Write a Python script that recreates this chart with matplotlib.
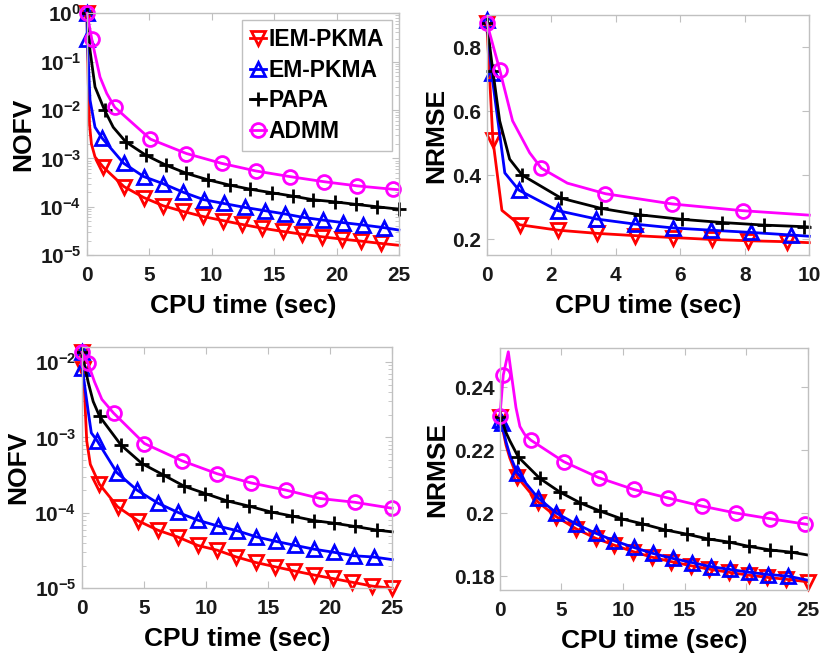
import numpy as np
import matplotlib
matplotlib.use("Agg")
import matplotlib.pyplot as plt
from matplotlib.ticker import FuncFormatter, LogLocator, NullFormatter

plt.rcParams['font.family'] = ['Liberation Sans', 'DejaVu Sans']
plt.rcParams['font.weight'] = 'bold'
plt.rcParams['mathtext.fontset'] = 'custom'
plt.rcParams['mathtext.rm'] = 'Liberation Sans:bold'
plt.rcParams['mathtext.bf'] = 'Liberation Sans:bold'
plt.rcParams['mathtext.it'] = 'Liberation Sans:bold'

names = ["IEM-PKMA", "EM-PKMA", "PAPA", "ADMM"]
colors = ["#ff0000", "#0000ff", "#000000", "#ff00ff"]
marks = ["v", "^", "+", "o"]

# ---- top left: NOFV vs CPU time ----
tl_iem_t = [0, 0.03, 0.1, 0.2, 0.35, 0.64, 1.3, 2.97, 4.55, 6.10, 7.70, 9.30, 10.86, 12.46, 14.06, 15.67, 17.27, 18.82, 20.40, 21.95, 23.53, 25]
tl_iem_v = [1, 0.3, 0.035, 5e-3, 2e-3, 1.07e-3, 6.6e-4, 2.6e-4, 1.55e-4, 1.05e-4, 8e-5, 6.3e-5, 5.2e-5, 4.3e-5, 3.6e-5, 3.1e-5, 2.7e-5, 2.4e-5, 2.15e-5, 1.95e-5, 1.75e-5, 1.6e-5]
tl_iem_m = [0] + list(range(6, 21))
tl_em_t = [0, 0.02, 0.24, 0.64, 1.22, 2.94, 4.55, 6.10, 7.70, 9.36, 10.96, 12.65, 14.25, 15.86, 17.38, 18.93, 20.53, 22.14, 23.8, 25]
tl_em_v = [1, 0.3, 0.016, 4.4e-3, 2.6e-3, 7.9e-4, 4.2e-4, 3.0e-4, 2.0e-4, 1.4e-4, 1.17e-4, 9.7e-5, 8.3e-5, 7.1e-5, 6.0e-5, 5.3e-5, 4.7e-5, 4.2e-5, 3.7e-5, 3.3e-5]
tl_em_m = [0, 1] + list(range(4, 19))
tl_papa_t = [0, 0.24, 0.64, 1.4, 2.1, 3.1, 4.7, 6.3, 7.97, 9.7, 11.44, 13.1, 14.8, 16.5, 18.1, 19.9, 21.55, 23.26, 25]
tl_papa_v = [1, 0.17, 0.03, 0.01, 4.4e-3, 2.2e-3, 1.17e-3, 7.3e-4, 4.9e-4, 3.6e-4, 2.8e-4, 2.3e-4, 1.95e-4, 1.66e-4, 1.4e-4, 1.26e-4, 1.12e-4, 1.0e-4, 8.9e-5]
tl_papa_m = [0, 3] + list(range(5, 19))
tl_admm_t = [0, 0.37, 0.7, 1.04, 1.58, 2.22, 5.08, 7.97, 10.78, 13.53, 16.26, 18.98, 21.66, 24.5, 25]
tl_admm_v = [1, 0.3, 0.12, 0.048, 0.022, 0.0114, 2.5e-3, 1.26e-3, 7.9e-4, 5.5e-4, 4.2e-4, 3.3e-4, 2.7e-4, 2.3e-4, 2.25e-4]
tl_admm_m = [0, 1] + list(range(5, 14))

# ---- top right: NRMSE vs CPU time ----
tr_iem_t = [0, 0.19, 0.47, 1.02, 2.21, 3.43, 4.59, 5.78, 6.97, 8.11, 9.3, 10]
tr_iem_v = [0.877, 0.51, 0.29, 0.245, 0.228, 0.218, 0.211, 0.205, 0.199, 0.195, 0.192, 0.189]
tr_iem_m = [0, 1] + list(range(3, 11))
tr_em_t = [0, 0.15, 0.56, 1.0, 2.21, 3.4, 4.59, 5.78, 6.95, 8.19, 9.43, 10]
tr_em_v = [0.885, 0.72, 0.407, 0.353, 0.289, 0.263, 0.247, 0.235, 0.228, 0.221, 0.213, 0.209]
tr_em_m = [0, 1] + list(range(3, 11))
tr_papa_t = [0, 0.19, 0.4, 0.71, 1.1, 2.31, 3.55, 4.75, 6.04, 7.3, 8.58, 9.84, 10]
tr_papa_v = [0.877, 0.725, 0.57, 0.45, 0.40, 0.328, 0.296, 0.276, 0.262, 0.252, 0.244, 0.239, 0.238]
tr_papa_m = [0, 1] + list(range(4, 12))
tr_admm_t = [0, 0.4, 0.8, 1.33, 1.69, 2.5, 3.68, 5.75, 7.93, 10]
tr_admm_v = [0.877, 0.73, 0.57, 0.47, 0.422, 0.375, 0.342, 0.31, 0.289, 0.275]
tr_admm_m = [0, 1, 4, 6, 7, 8]

# ---- bottom left: NOFV vs CPU time ----
bl_iem_t = [0, 0.05, 0.19, 0.38, 0.67, 1.40, 2.88, 4.49, 6.1, 7.7, 9.33, 10.9, 12.45, 14.0, 15.56, 17.1, 18.7, 20.2, 21.8, 23.4, 25]
bl_iem_v = [0.0135, 8e-3, 4.3e-3, 9e-4, 4.4e-4, 2.4e-4, 1.2e-4, 7.9e-5, 5.9e-5, 4.8e-5, 3.7e-5, 3.2e-5, 2.6e-5, 2.2e-5, 1.93e-5, 1.7e-5, 1.5e-5, 1.35e-5, 1.2e-5, 1.07e-5, 1.0e-5]
bl_iem_m = [0, 1] + list(range(5, 21))
bl_em_t = [0, 0.02, 0.24, 0.5, 0.75, 1.21, 2.82, 4.44, 6.1, 7.7, 9.33, 10.94, 12.5, 14.06, 15.6, 17.2, 18.7, 20.3, 21.9, 23.5, 25]
bl_em_v = [0.0135, 8.3e-3, 4.5e-3, 2.2e-3, 1.15e-3, 9.1e-4, 3.4e-4, 2.0e-4, 1.35e-4, 1.02e-4, 8e-5, 6.7e-5, 5.8e-5, 4.8e-5, 4.2e-5, 3.7e-5, 3.3e-5, 3.0e-5, 2.7e-5, 2.6e-5, 2.4e-5]
bl_em_m = [0, 1] + list(range(5, 20))
bl_papa_t = [0, 0.2, 0.51, 0.9, 1.42, 3.15, 4.84, 6.53, 8.25, 9.95, 11.7, 13.44, 15.2, 16.9, 18.7, 20.3, 22.0, 23.8, 25]
bl_papa_v = [0.0135, 9e-3, 5.3e-3, 3e-3, 1.9e-3, 7.9e-4, 4.5e-4, 3.2e-4, 2.25e-4, 1.8e-4, 1.44e-4, 1.23e-4, 1.03e-4, 9.1e-5, 7.9e-5, 7.3e-5, 6.6e-5, 5.9e-5, 5.6e-5]
bl_papa_m = [0] + list(range(4, 18))
bl_admm_t = [0, 0.48, 1.0, 1.6, 2.55, 5.03, 8.06, 10.9, 13.6, 16.45, 19.2, 22.0, 25]
bl_admm_v = [0.0135, 9.7e-3, 5.5e-3, 3.2e-3, 2.1e-3, 8.3e-4, 4.9e-4, 3.3e-4, 2.5e-4, 2.0e-4, 1.55e-4, 1.38e-4, 1.15e-4]
bl_admm_m = [0, 1] + list(range(4, 13))

# ---- bottom right: NRMSE vs CPU time ----
br_iem_t = [0, 0.15, 0.5, 0.8, 1.4, 3.1, 4.59, 6.2, 7.78, 9.3, 10.8, 12.35, 13.9, 15.5, 17.0, 18.6, 20.2, 21.7, 23.2, 25]
br_iem_v = [0.2305, 0.228, 0.2215, 0.2175, 0.2115, 0.2035, 0.1988, 0.1950, 0.1920, 0.1898, 0.1878, 0.1860, 0.1846, 0.1833, 0.1822, 0.1812, 0.1803, 0.1796, 0.1790, 0.1782]
br_iem_m = [0] + list(range(4, 20))
br_em_t = [0, 0.15, 0.5, 0.8, 1.4, 3.1, 4.59, 6.2, 7.78, 9.3, 10.86, 12.43, 14.05, 15.6, 17.16, 18.7, 20.27, 21.8, 23.4, 25]
br_em_v = [0.2295, 0.2285, 0.2225, 0.2185, 0.2128, 0.2048, 0.2000, 0.1965, 0.1936, 0.1912, 0.1891, 0.1872, 0.1856, 0.1843, 0.1830, 0.1821, 0.1812, 0.1805, 0.1800, 0.1787]
br_em_m = [0, 1] + list(range(4, 19))
br_papa_t = [0, 0.2, 0.5, 0.81, 1.49, 3.24, 4.86, 6.54, 8.16, 9.86, 11.57, 13.38, 15.19, 16.9, 18.6, 20.27, 21.95, 23.65, 25]
br_papa_v = [0.2306, 0.229, 0.2255, 0.2229, 0.2178, 0.2110, 0.2067, 0.2032, 0.2006, 0.1982, 0.1966, 0.1947, 0.1933, 0.1918, 0.1908, 0.1894, 0.1883, 0.1876, 0.1867]
br_papa_m = [0] + list(range(4, 18))
br_admm_t = [0, 0.27, 0.68, 1.0, 1.3, 1.62, 2.0, 2.49, 5.19, 8.05, 10.86, 13.65, 16.43, 19.19, 21.97, 24.8, 25]
br_admm_v = [0.2309, 0.2438, 0.2512, 0.2420, 0.2335, 0.2275, 0.2250, 0.2232, 0.2163, 0.2112, 0.2075, 0.2048, 0.2022, 0.2000, 0.1982, 0.1965, 0.1964]
br_admm_m = [0, 1] + list(range(7, 16))

panels = [
    dict(rect=[0.1055, 0.614, 0.378, 0.366], log=True, ylabel="NOFV",
         xlim=(0, 25), xticks=[0, 5, 10, 15, 20, 25], ylim=(1e-5, 1),
         series=[(tl_iem_t, tl_iem_v, tl_iem_m), (tl_em_t, tl_em_v, tl_em_m),
                 (tl_papa_t, tl_papa_v, tl_papa_m), (tl_admm_t, tl_admm_v, tl_admm_m)]),
    dict(rect=[0.590, 0.614, 0.391, 0.363], log=False, ylabel="NRMSE",
         xlim=(0, 10), xticks=[0, 2, 4, 6, 8, 10], ylim=(0.15, 0.9),
         yticks=[0.2, 0.4, 0.6, 0.8],
         series=[(tr_iem_t, tr_iem_v, tr_iem_m), (tr_em_t, tr_em_v, tr_em_m),
                 (tr_papa_t, tr_papa_v, tr_papa_m), (tr_admm_t, tr_admm_v, tr_admm_m)]),
    dict(rect=[0.0994, 0.110, 0.376, 0.365], log=True, ylabel="NOFV",
         xlim=(0, 25), xticks=[0, 5, 10, 15, 20, 25], ylim=(1e-5, 0.0158),
         series=[(bl_iem_t, bl_iem_v, bl_iem_m), (bl_em_t, bl_em_v, bl_em_m),
                 (bl_papa_t, bl_papa_v, bl_papa_m), (bl_admm_t, bl_admm_v, bl_admm_m)]),
    dict(rect=[0.606, 0.107, 0.373, 0.367], log=False, ylabel="NRMSE",
         xlim=(0, 25), xticks=[0, 5, 10, 15, 20, 25], ylim=(0.1755, 0.2525),
         yticks=[0.18, 0.2, 0.22, 0.24],
         series=[(br_iem_t, br_iem_v, br_iem_m), (br_em_t, br_em_v, br_em_m),
                 (br_papa_t, br_papa_v, br_papa_m), (br_admm_t, br_admm_v, br_admm_m)]),
]

grey = "#c0c0c0"
fig = plt.figure(figsize=(8.25, 6.61), dpi=100)

for k, p in enumerate(panels):
    ax = fig.add_axes(p["rect"])
    for (t, v, m), name, c, mk in zip(p["series"], names, colors, marks):
        ax.plot(t, v, color=c, lw=2, marker=mk, markevery=m, ms=10,
                mew=2, mfc='none', label=name, clip_on=False)
    if p["log"]:
        ax.set_yscale('log')
        ax.yaxis.set_major_locator(LogLocator(base=10, numticks=10))
        ax.yaxis.set_minor_locator(LogLocator(base=10, subs=np.arange(2, 10), numticks=20))
        ax.yaxis.set_minor_formatter(NullFormatter())
        ax.yaxis.set_major_formatter(FuncFormatter(
            lambda y, pos: r"$\mathbf{10^{%d}}$" % int(round(np.log10(y)))))
    else:
        ax.set_yticks(p["yticks"])
        ax.set_yticklabels([("%g" % y) for y in p["yticks"]])
    ax.set_xlim(p["xlim"])
    ax.set_ylim(p["ylim"])
    ax.set_xticks(p["xticks"])
    ax.set_xlabel("CPU time (sec)", fontsize=19, fontweight='bold', labelpad=6)
    ax.set_ylabel(p["ylabel"], fontsize=19, fontweight='bold', labelpad=3)
    ax.tick_params(which='both', direction='in', top=True, right=True,
                   color=grey, labelsize=15, labelcolor='#1a1a1a')
    ax.tick_params(axis='x', pad=8)
    ax.tick_params(axis='y', pad=4)
    ax.tick_params(which='major', length=5)
    ax.tick_params(which='minor', length=3)
    for s in ax.spines.values():
        s.set_color(grey)
        s.set_linewidth(1)
    if k == 0:
        leg = ax.legend(loc='upper right', fontsize=16.5, handlelength=0.7,
                        handletextpad=0.1, borderpad=0.35, labelspacing=0.33,
                        borderaxespad=0.3, fancybox=False, framealpha=1)
        leg.get_frame().set_edgecolor(grey)
        leg.get_frame().set_linewidth(1)

fig.savefig("out.png", dpi=100)
